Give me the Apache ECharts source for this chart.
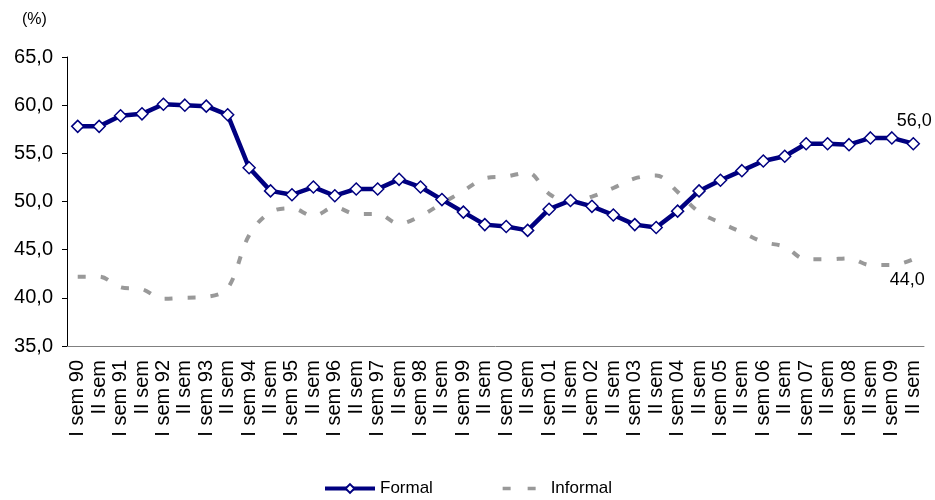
<!DOCTYPE html>
<html>
<head>
<meta charset="utf-8">
<script src="https://cdn.jsdelivr.net/npm/echarts@6/dist/echarts.min.js"></script>
<style>
  html, body { margin: 0; padding: 0; background: #fff; }
  #chart { width: 935px; height: 500px; }
</style>
</head>
<body>
<div id="chart"></div>
<script>
// semesters 1990 - 2009
const categories = [
  'I sem 90', 'II sem', 'I sem 91', 'II sem', 'I sem 92', 'II sem', 'I sem 93', 'II sem',
  'I sem 94', 'II sem', 'I sem 95', 'II sem', 'I sem 96', 'II sem', 'I sem 97', 'II sem',
  'I sem 98', 'II sem', 'I sem 99', 'II sem', 'I sem 00', 'II sem', 'I sem 01', 'II sem',
  'I sem 02', 'II sem', 'I sem 03', 'II sem', 'I sem 04', 'II sem', 'I sem 05', 'II sem',
  'I sem 06', 'II sem', 'I sem 07', 'II sem', 'I sem 08', 'II sem', 'I sem 09', 'II sem'
]

const formal = [
  57.8, 57.8, 58.9, 59.1, 60.1, 60.0, 59.9, 59.0,
  53.5, 51.1, 50.7, 51.5, 50.6, 51.3, 51.3, 52.3,
  51.5, 50.2, 48.9, 47.6, 47.4, 47.0, 49.2, 50.1,
  49.5, 48.6, 47.6, 47.3, 49.0, 51.1, 52.2, 53.2,
  54.2, 54.7, 56.0, 56.0, 55.9, 56.6, 56.6, 56.0
]

const informal = [
  42.2, 42.2, 41.1, 40.9, 39.9, 40.0, 40.1, 41.0,
  46.5, 48.9, 49.3, 48.5, 49.4, 48.7, 48.7, 47.7,
  48.5, 49.8, 51.1, 52.4, 52.6, 53.0, 50.8, 49.9,
  50.5, 51.4, 52.4, 52.7, 51.0, 48.9, 47.8, 46.8,
  45.8, 45.3, 44.0, 44.0, 44.1, 43.4, 43.4, 44.0
]

const yTicks = { min: 35, max: 65, step: 5 }

const fmt = v => v.toFixed(1).replace('.', ',')
const font = 'Liberation Sans, Arial, sans-serif'

// only the last point carries a label
function withLastLabel(values, label) {
  return values.map((v, i) => i === values.length - 1 ? { value: v, label } : v)
}

const chart = echarts.init(document.getElementById('chart'))
chart.setOption({
  animation: false,
  textStyle: { fontFamily: font },
  grid: { left: 67, right: 11, top: 57, bottom: 154 },
  title: {
    text: '(%)',
    left: 17,
    top: 7,
    textStyle: { fontFamily: font, fontSize: 16, fontWeight: 'normal', color: '#000' }
  },
  legend: {
    bottom: 3,
    left: 323,
    padding: 0,
    itemWidth: 50,
    itemHeight: 11,
    itemGap: 61,
    textStyle: { fontFamily: font, fontSize: 17, color: '#000' },
    data: [
      { name: 'Formal', lineStyle: { width: 4 } },
      { name: 'Informal', lineStyle: { width: 3.5, type: [8, 17], dashOffset: -7 } }
    ]
  },
  xAxis: {
    type: 'category',
    data: categories,
    boundaryGap: true,
    axisLine: { lineStyle: { color: '#808080', width: 1 } },
    axisTick: { length: 5, lineStyle: { color: '#000' } },
    axisLabel: {
      interval: 0,
      rotate: 90,
      fontSize: 20,
      color: '#000',
      margin: 14
    }
  },
  yAxis: {
    type: 'value',
    min: yTicks.min,
    max: yTicks.max,
    interval: yTicks.step,
    splitLine: { show: false },
    axisLine: { show: true, lineStyle: { color: '#000' } },
    axisTick: { show: true, length: 5, lineStyle: { color: '#000' } },
    axisLabel: {
      fontSize: 20,
      color: '#000',
      margin: 14,
      formatter: v => fmt(v)
    }
  },
  series: [
    {
      name: 'Formal',
      type: 'line',
      data: withLastLabel(formal, {
        show: true,
        position: 'top',
        distance: 8,
        offset: [1, 1],
        fontSize: 18,
        color: '#000',
        formatter: p => fmt(p.value)
      }),
      symbol: 'diamond',
      symbolSize: 12,
      lineStyle: { color: '#000080', width: 4.5 },
      itemStyle: { color: '#fff', borderColor: '#000080', borderWidth: 1.5 },
      z: 3
    },
    {
      name: 'Informal',
      type: 'line',
      data: withLastLabel(informal, {
        show: true,
        position: 'bottom',
        distance: 10,
        offset: [-6, 2],
        fontSize: 18,
        color: '#000',
        formatter: p => fmt(p.value)
      }),
      smooth: 0.35,
      symbol: 'circle',
      symbolSize: 0.1,
      lineStyle: { color: '#999999', width: 4, type: [8, 15] },
      itemStyle: { color: 'rgba(0,0,0,0)' },
      z: 2
    }
  ]
})
</script>
</body>
</html>
